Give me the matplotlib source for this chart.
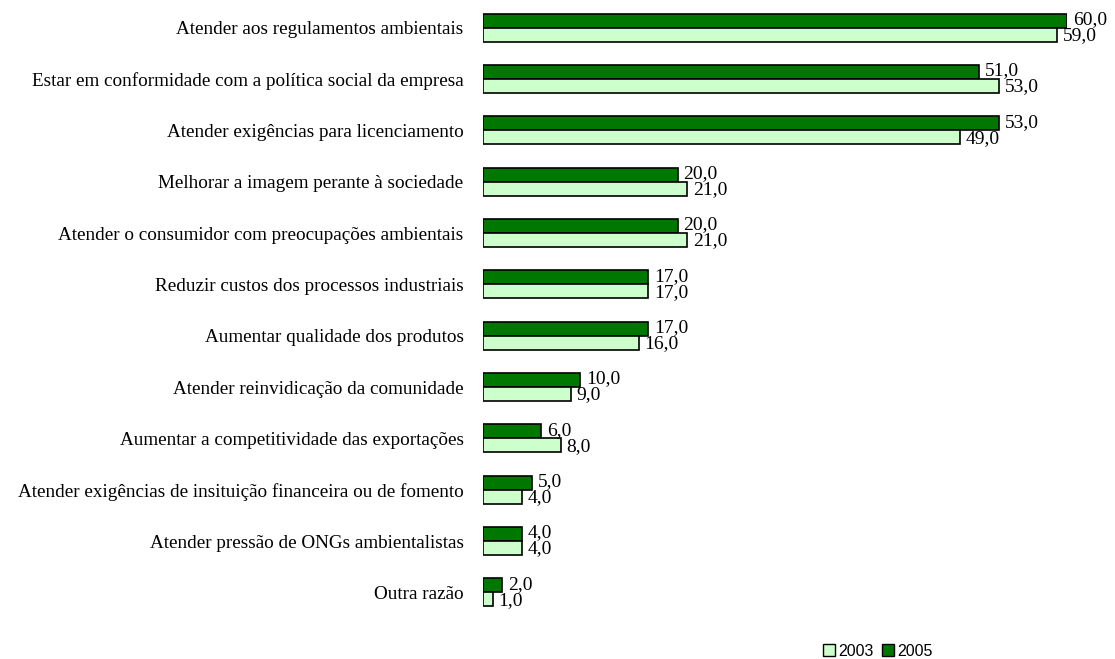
import numpy as np
import matplotlib.pyplot as plt
from matplotlib.patches import Patch

razoes = [
    "Atender aos regulamentos ambientais",
    "Estar em conformidade com a política social da empresa",
    "Atender exigências para licenciamento",
    "Melhorar a imagem perante à sociedade",
    "Atender o consumidor com preocupações ambientais",
    "Reduzir custos dos processos industriais",
    "Aumentar qualidade dos produtos",
    "Atender reinvidicação da comunidade",
    "Aumentar a competitividade das exportações",
    "Atender exigências de insituição financeira ou de fomento",
    "Atender pressão de ONGs ambientalistas",
    "Outra razão",
]
v2005 = [60, 51, 53, 20, 20, 17, 17, 10, 6, 5, 4, 2]
v2003 = [59, 53, 49, 21, 21, 17, 16, 9, 8, 4, 4, 1]

cor2003 = "#ccffcc"
cor2005 = "#007800"

W, H = 1115, 659
fig = plt.figure(figsize=(W / 100, H / 100), dpi=100)
# eixo em pixels: x=0 em 483, x=60 em 1067
ax = fig.add_axes([483 / W, (H - 618) / H, (1067 - 483) / W, 616 / H])

y = np.arange(len(razoes))
h = 0.272
ax.barh(y - h / 2, v2005, height=h, color=cor2005, edgecolor="black", linewidth=1.2)
ax.barh(y + h / 2, v2003, height=h, color=cor2003, edgecolor="black", linewidth=1.2)

for i in range(len(razoes)):
    ax.text(v2005[i] + 0.6, y[i] - h / 2 - 0.02, f"{v2005[i]:.1f}".replace(".", ","),
            va="center", ha="left", fontsize=14, family="Liberation Serif")
    ax.text(v2003[i] + 0.6, y[i] + h / 2 + 0.02, f"{v2003[i]:.1f}".replace(".", ","),
            va="center", ha="left", fontsize=14, family="Liberation Serif")

ax.set_xlim(0, 60)
ax.set_ylim(len(razoes) - 0.5, -0.5)
ax.set_yticks(y)
ax.set_yticklabels(razoes, family="Liberation Serif", fontsize=13.8)
ax.tick_params(axis="y", length=0, pad=14)
ax.set_xticks([])
for s in ax.spines.values():
    s.set_visible(False)

handles = [Patch(facecolor=cor2003, edgecolor="black", label="2003"),
           Patch(facecolor=cor2005, edgecolor="black", label="2005")]
fig.legend(handles=handles, loc="center", bbox_to_anchor=(878 / W, 1 - 651 / H),
           ncol=2, frameon=False, handlelength=0.75, handleheight=0.75,
           handletextpad=0.2, columnspacing=0.5,
           prop={"family": "Liberation Sans", "size": 11.5})

fig.savefig("out.png", dpi=100)
